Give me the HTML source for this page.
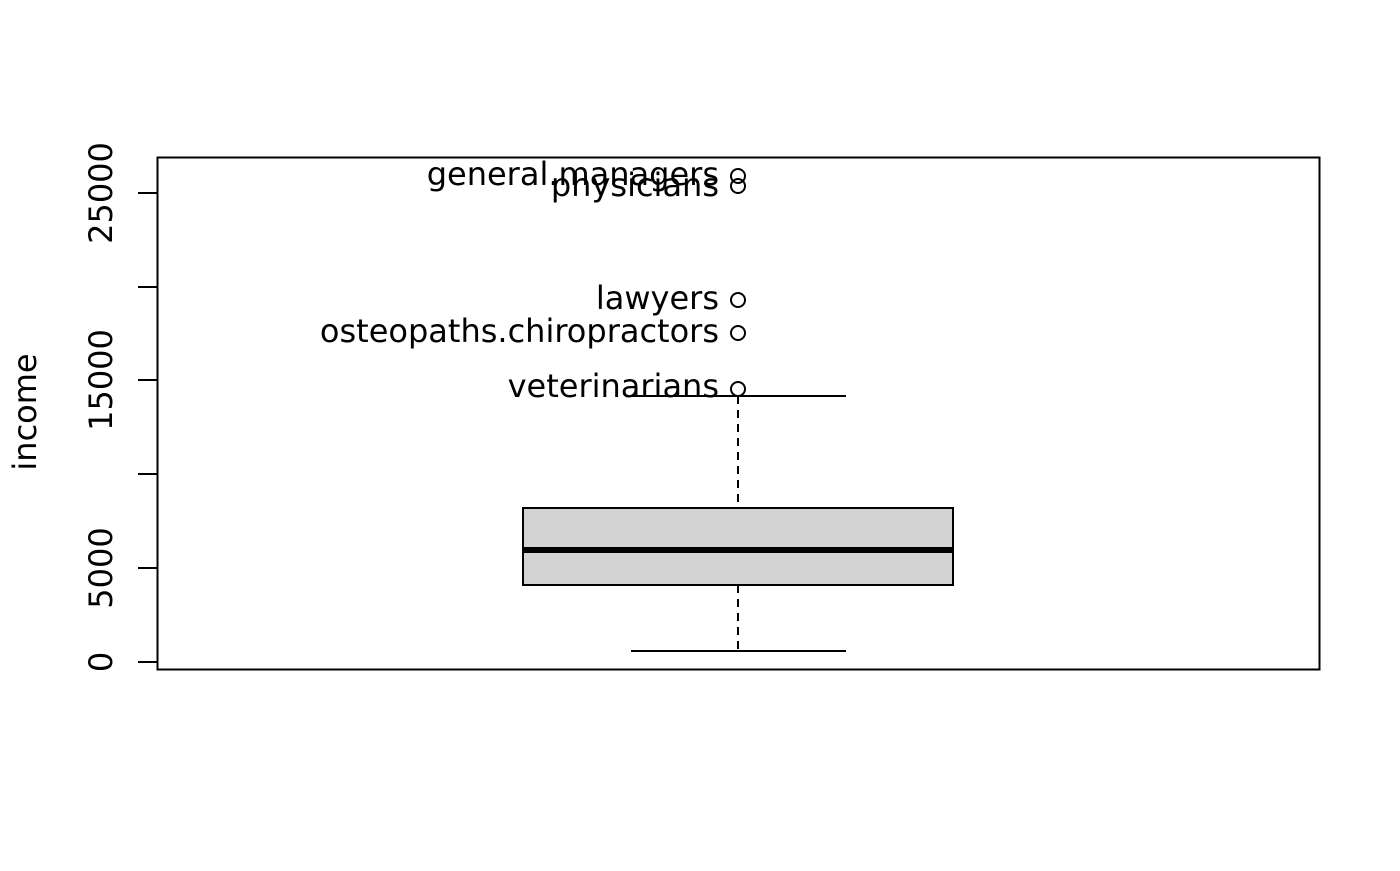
<!DOCTYPE html>
<html><head><meta charset="utf-8"><style>html,body{margin:0;padding:0;background:#fff}</style></head>
<body>
<svg width="1400" height="866" xmlns="http://www.w3.org/2000/svg" font-family="DejaVu Sans, Liberation Sans, sans-serif" font-size="32">
<rect width="1400" height="866" fill="#fff"/>
<rect x="157.5" y="157.5" width="1162" height="512" fill="none" stroke="#000" stroke-width="2"/>
<g stroke="#000" stroke-width="2">
<line x1="138" y1="662" x2="157" y2="662"/>
<line x1="138" y1="568" x2="157" y2="568"/>
<line x1="138" y1="474" x2="157" y2="474"/>
<line x1="138" y1="380" x2="157" y2="380"/>
<line x1="138" y1="287" x2="157" y2="287"/>
<line x1="138" y1="193" x2="157" y2="193"/>
</g>
<g text-anchor="middle">
<text transform="translate(112,662) rotate(-90)">0</text>
<text transform="translate(112,568) rotate(-90)">5000</text>
<text transform="translate(112,380) rotate(-90)">15000</text>
<text transform="translate(112,193) rotate(-90)">25000</text>
<text transform="translate(36,412) rotate(-90)">income</text>
</g>
<rect x="523" y="508" width="430" height="77" fill="#d3d3d3" stroke="#000" stroke-width="2"/>
<line x1="523" y1="550" x2="953" y2="550" stroke="#000" stroke-width="6"/>
<g stroke="#000" stroke-width="2">
<line x1="738" y1="396" x2="738" y2="508" stroke-dasharray="8,6"/>
<line x1="738" y1="585" x2="738" y2="651" stroke-dasharray="8,6"/>
<line x1="631" y1="396" x2="846" y2="396"/>
<line x1="631" y1="651" x2="846" y2="651"/>
</g>
<g fill="none" stroke="#000" stroke-width="2">
<circle cx="738" cy="176" r="7"/>
<circle cx="738" cy="186" r="7"/>
<circle cx="738" cy="300" r="7"/>
<circle cx="738" cy="333" r="7"/>
<circle cx="738" cy="389" r="7"/>
</g>
<g text-anchor="end">
<text x="719" y="185">general.managers</text>
<text x="719" y="196">physicians</text>
<text x="719" y="309">lawyers</text>
<text x="719" y="342">osteopaths.chiropractors</text>
<text x="719" y="397">veterinarians</text>
</g>
</svg>
</body></html>
